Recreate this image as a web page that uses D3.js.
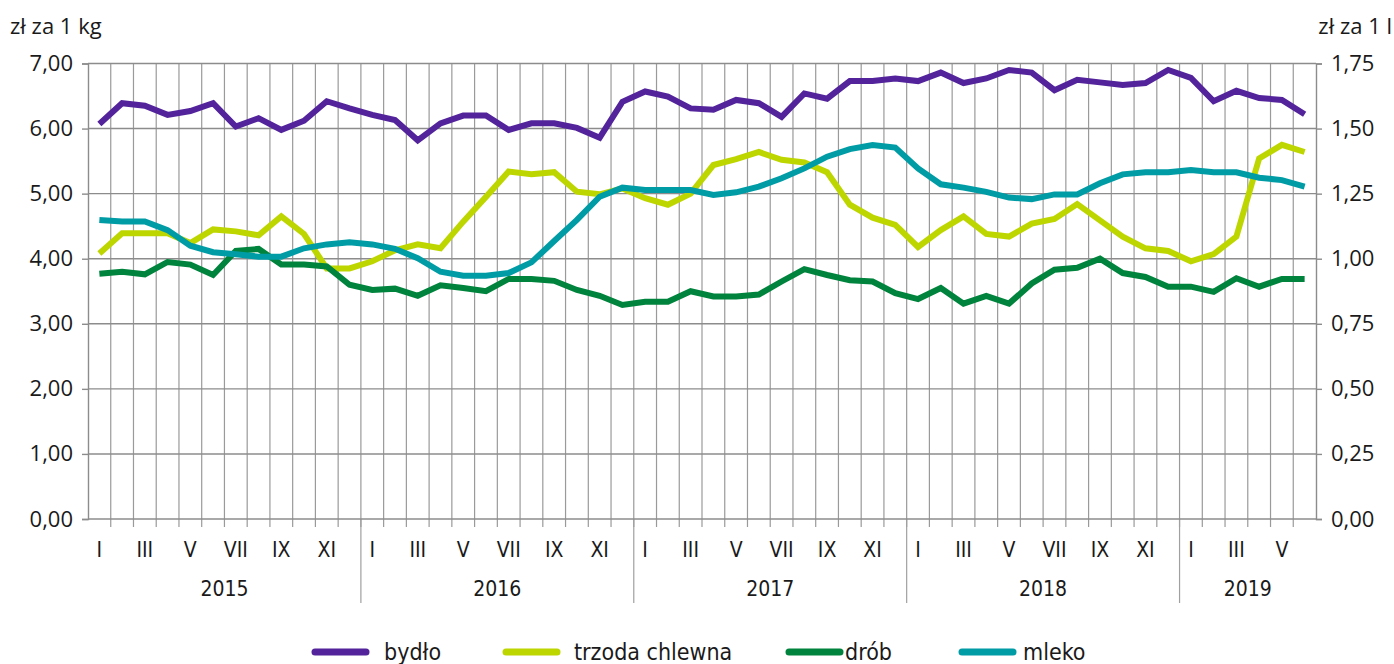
<!DOCTYPE html>
<html>
<head>
<meta charset="utf-8">
<script src="https://cdn.jsdelivr.net/npm/d3@7"></script>
<style>
  body { margin: 0; background: #fff; }
  text { fill: #1a1a1a; }
</style>
</head>
<body>
<div id="chart"></div>
<script>
var width = 1394, height = 664;
var margin = {top: 63.5, right: 78, bottom: 145, left: 88};

// data (zl/kg for the first three, zl/l for milk)
var years = ["2015", "2016", "2017", "2018", "2019"];
var monthNames = ["I","II","III","IV","V","VI","VII","VIII","IX","X","XI","XII"];
var monthsPerYear = [12, 12, 12, 12, 6];

var bydlo = [6.07,6.39,6.35,6.21,6.27,6.39,6.03,6.16,5.98,6.12,6.42,6.31,
             6.21,6.13,5.82,6.08,6.20,6.20,5.98,6.08,6.08,6.01,5.86,6.41,
             6.57,6.49,6.31,6.29,6.44,6.39,6.18,6.54,6.46,6.73,6.73,6.77,
             6.73,6.86,6.70,6.77,6.90,6.86,6.59,6.75,6.71,6.67,6.70,6.90,
             6.78,6.42,6.58,6.47,6.44,6.22];
var trzoda = [4.08,4.39,4.39,4.39,4.24,4.45,4.42,4.36,4.65,4.38,3.85,3.85,
              3.96,4.13,4.22,4.16,4.57,4.95,5.34,5.30,5.33,5.03,4.99,5.08,
              4.93,4.83,5.00,5.44,5.53,5.64,5.52,5.48,5.33,4.83,4.63,4.52,
              4.18,4.44,4.65,4.38,4.34,4.54,4.61,4.84,4.59,4.34,4.16,4.12,
              3.96,4.07,4.34,5.54,5.75,5.64];
var drob = [3.77,3.80,3.76,3.95,3.91,3.75,4.12,4.15,3.91,3.91,3.88,3.60,
            3.52,3.54,3.43,3.59,3.55,3.50,3.69,3.69,3.66,3.52,3.43,3.29,
            3.34,3.34,3.50,3.42,3.42,3.45,3.65,3.84,3.75,3.67,3.65,3.47,
            3.38,3.55,3.31,3.43,3.31,3.62,3.83,3.86,4.00,3.78,3.72,3.57,
            3.57,3.49,3.70,3.57,3.69,3.69];
var mleko = [1.149,1.143,1.143,1.110,1.050,1.025,1.017,1.008,1.008,1.040,1.055,1.063,
             1.055,1.038,1.002,0.950,0.935,0.935,0.945,0.986,1.068,1.149,1.238,1.273,
             1.264,1.264,1.264,1.245,1.255,1.277,1.309,1.347,1.392,1.421,1.437,1.427,
             1.347,1.286,1.273,1.257,1.235,1.229,1.247,1.247,1.290,1.324,1.332,1.332,
             1.341,1.332,1.332,1.311,1.302,1.277];

var leftTicks = [0,1,2,3,4,5,6,7];
var rightTicks = [0,0.25,0.5,0.75,1,1.25,1.5,1.75];

var seriesNames = ["bydło", "trzoda chlewna", "drób", "mleko"];
var seriesColors = ["#52239b", "#bed600", "#00843d", "#009ca6"];

// month keys
var months = [];
years.forEach(function(y, yi) {
  for (var m = 0; m < monthsPerYear[yi]; m++) months.push({key: y + "-" + m, year: y, m: m});
});

var series = [
  {name: seriesNames[0], values: bydlo, axis: "left"},
  {name: seriesNames[1], values: trzoda, axis: "left"},
  {name: seriesNames[2], values: drob, axis: "left"},
  {name: seriesNames[3], values: mleko, axis: "right"}
];

var innerW = width - margin.left - margin.right,
    innerH = height - margin.top - margin.bottom;

var mainFont = "'Open Sans', 'Noto Sans', sans-serif";
var condensed = "'Liberation Sans Narrow', 'DejaVu Sans Condensed', sans-serif";

var svg = d3.select("#chart").append("svg")
  .attr("width", width)
  .attr("height", height)
  .attr("font-family", mainFont);

var g = svg.append("g")
  .attr("transform", "translate(" + margin.left + "," + margin.top + ")");

// Scales
var x = d3.scaleBand()
  .domain(months.map(function(d) { return d.key; }))
  .range([0, innerW])
  .padding(0);

var yL = d3.scaleLinear().domain([0, 7]).range([innerH, 0]);
var yR = d3.scaleLinear().domain([0, 1.75]).range([innerH, 0]);

var fmt = function(d) { return d.toFixed(2).replace(".", ","); };

// vertical gridlines at month boundaries
g.append("g").selectAll("line")
  .data(months.slice(1))
  .enter().append("line")
  .attr("x1", function(d) { return x(d.key); })
  .attr("x2", function(d) { return x(d.key); })
  .attr("y1", 0)
  .attr("y2", innerH + 8)
  .attr("stroke", "#9a9a9a")
  .attr("stroke-width", 1.2);

// year separators going down through labels
g.append("g").selectAll("line")
  .data(months.filter(function(d) { return d.m === 0 && d.year !== years[0]; }))
  .enter().append("line")
  .attr("x1", function(d) { return x(d.key); })
  .attr("x2", function(d) { return x(d.key); })
  .attr("y1", innerH)
  .attr("y2", innerH + 84)
  .attr("stroke", "#a0a0a0")
  .attr("stroke-width", 1.2);

// horizontal gridlines
g.append("g").selectAll("line")
  .data(leftTicks)
  .enter().append("line")
  .attr("x1", 0)
  .attr("x2", innerW)
  .attr("y1", function(d) { return yL(d); })
  .attr("y2", function(d) { return yL(d); })
  .attr("stroke", "#8c8c8c")
  .attr("stroke-width", 1.4);

// left axis
var axL = g.append("g")
  .call(d3.axisLeft(yL).tickValues(leftTicks).tickSize(6).tickPadding(9).tickFormat(fmt))
  .attr("font-family", mainFont);
axL.select(".domain").attr("stroke", "#8c8c8c").attr("stroke-width", 1.4);
axL.selectAll(".tick line").attr("stroke", "#8c8c8c").attr("stroke-width", 1.4);
axL.selectAll(".tick text").attr("font-size", 22).attr("fill", "#1a1a1a");

// right axis
var axR = g.append("g")
  .attr("transform", "translate(" + innerW + ",0)")
  .call(d3.axisRight(yR).tickValues(rightTicks).tickSize(6).tickPadding(9).tickFormat(fmt))
  .attr("font-family", mainFont);
axR.select(".domain").attr("stroke", "#8c8c8c").attr("stroke-width", 1.4);
axR.selectAll(".tick line").attr("stroke", "#8c8c8c").attr("stroke-width", 1.4);
axR.selectAll(".tick text").attr("font-size", 22).attr("fill", "#1a1a1a");

// axis titles
svg.append("text").attr("x", 10).attr("y", 34)
  .attr("font-size", 22).attr("fill", "#333").text("zł za 1 kg");
svg.append("text").attr("x", 1392).attr("y", 34).attr("text-anchor", "end")
  .attr("font-size", 22).attr("fill", "#333").text("zł za 1 l");

// month labels (odd months)
g.append("g").selectAll("text")
  .data(months.filter(function(d) { return d.m % 2 === 0; }))
  .enter().append("text")
  .attr("x", function(d) { return x(d.key) + x.bandwidth() / 2; })
  .attr("y", innerH + 38)
  .attr("text-anchor", "middle")
  .attr("font-family", condensed)
  .attr("font-size", 21)
  .text(function(d) { return monthNames[d.m]; });

// year labels
g.append("g").selectAll("text")
  .data(years)
  .enter().append("text")
  .attr("x", function(y, yi) {
    var first = months.filter(function(d) { return d.year === y; });
    var x0 = x(first[0].key), x1 = x(first[first.length - 1].key) + x.bandwidth();
    return (x0 + x1) / 2;
  })
  .attr("y", innerH + 77)
  .attr("text-anchor", "middle")
  .attr("font-family", condensed)
  .attr("font-size", 21)
  .text(function(d) { return d; });

// lines
series.forEach(function(s, si) {
  var ys = s.axis === "left" ? yL : yR;
  var line = d3.line()
    .x(function(d, i) { return x(months[i].key) + x.bandwidth() / 2; })
    .y(function(d) { return ys(d); });
  g.append("path")
    .datum(s.values)
    .attr("d", line)
    .attr("fill", "none")
    .attr("stroke", seriesColors[si])
    .attr("stroke-width", 6)
    .attr("stroke-linejoin", "miter");
});

// legend
var legendX = [312, 503, 786, 959];
var legendText = [384, 574, 845, 1023];
var legend = svg.append("g");
seriesNames.forEach(function(n, i) {
  legend.append("line")
    .attr("x1", legendX[i] + 3).attr("x2", legendX[i] + 54)
    .attr("y1", 652).attr("y2", 652)
    .attr("stroke", seriesColors[i])
    .attr("stroke-width", 7)
    .attr("stroke-linecap", "round");
  legend.append("text")
    .attr("x", legendText[i])
    .attr("y", 660)
    .attr("font-family", condensed)
    .attr("font-size", 23)
    .text(n);
});
</script>
</body>
</html>
